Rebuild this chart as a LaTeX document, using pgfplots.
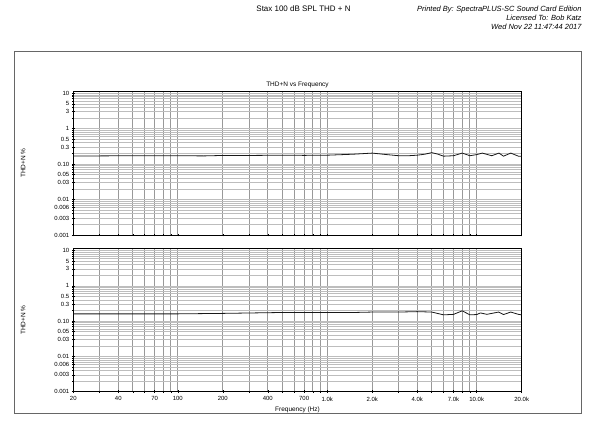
\documentclass[border=0pt]{standalone}
\usepackage{pgfplots}
\pgfplotsset{compat=1.18}
\usepackage{fontspec}
\setmainfont{Liberation Sans}
\pgfplotstableread{
f v
20 0.168
30 0.170
50 0.172
100 0.172
150 0.170
200 0.175
300 0.175
500 0.178
700 0.176
1000 0.178
1500 0.19
2000 0.204
2500 0.185
3000 0.172
3500 0.172
4000 0.178
4500 0.19
5000 0.21
5500 0.19
6000 0.167
7000 0.172
8000 0.204
9000 0.172
10000 0.185
10900 0.204
12600 0.172
14100 0.204
15100 0.167
16900 0.204
19000 0.167
20000 0.165
}\topdata
\pgfplotstableread{
f v
20 0.16
50 0.16
100 0.16
200 0.165
500 0.175
1000 0.175
1500 0.175
2000 0.18
3000 0.18
4000 0.185
5000 0.18
6000 0.15
7000 0.155
8000 0.195
9000 0.15
10000 0.153
10600 0.17
11700 0.155
14000 0.18
15100 0.153
16900 0.18
19000 0.155
20000 0.15
}\botdata
\definecolor{vgrid}{gray}{0.60}
\definecolor{hgrid}{gray}{0.74}
\pgfplotsset{every axis/.append style={
    scale only axis,
    width=448.4bp,
    xmin=20, xmax=20000,
    ymin=0.001, ymax=11.5,
    axis line style={black, line width=0.9pt},
    xtick={20,40,70,100,200,400,700,1000,2000,4000,7000,10000,20000},
    minor xtick={30,50,60,80,90,300,500,600,800,900,3000,5000,6000,8000,9000},
    ytick={0.001,0.003,0.006,0.01,0.03,0.05,0.1,0.3,0.5,1,3,5,10},
    yticklabels={0.001,0.003,0.006,0.01,0.03,0.05,0.10,0.3,0.5,1,3,5,10},
    minor ytick={0.002,0.004,0.005,0.007,0.008,0.009,0.02,0.04,0.06,0.07,0.08,0.09,0.2,0.4,0.6,0.7,0.8,0.9,2,4,6,7,8,9},
    xmajorgrids, xminorgrids, ymajorgrids, yminorgrids,
    major x grid style={vgrid, line width=1pt},
    major y grid style={hgrid, line width=0.5pt},
    minor x grid style={vgrid, line width=1pt},
    minor y grid style={hgrid, line width=0.5pt},
    tick style={black, line width=0.5pt},
    major tick length=3bp, minor tick length=2bp,
    tick align=center,
    xtick pos=bottom, ytick pos=left,
    tick label style={font=\fontsize{6}{7}\selectfont},
    yticklabel style={xshift=1bp},
    ylabel={THD+N \%},
    every axis y label/.style={at={(axis description cs:-0.112,0.5)}, rotate=90, anchor=center, font=\fontsize{6.5}{7.5}\selectfont},
}}
\begin{document}
\begin{tikzpicture}
\useasboundingbox (0bp,0bp) rectangle (600bp,422bp);
\draw[gray!80!black, line width=0.9pt] (14.7bp,8.7bp) rectangle (581.7bp,370.3bp);
\node[font=\fontsize{8}{9}\selectfont, anchor=base] at (303.5bp,410bp) {Stax 100 dB SPL THD + N};
\node[font=\fontsize{7.5}{9}\selectfont\itshape, anchor=base east] at (585bp,410bp) {Printed By: SpectraPLUS-SC Sound Card Edition};
\node[font=\fontsize{7.5}{9}\selectfont\itshape, anchor=base east] at (585bp,401bp) {Licensed To: Bob Katz};
\node[font=\fontsize{7.5}{9}\selectfont\itshape, anchor=base east] at (585bp,392bp) {Wed Nov 22 11:47:44 2017};
\begin{loglogaxis}[at={(73.3bp,187bp)}, anchor=south west, height=144bp,
  xticklabels={},
  title={THD+N vs Frequency},
  title style={font=\fontsize{6.5}{7.5}\selectfont, yshift=-6.5bp},
  /pgf/number format/assume math mode=true,
]
\addplot[black!90, line width=0.8pt] table[x=f,y=v] {\topdata};
\end{loglogaxis}
\begin{loglogaxis}[at={(73.3bp,30.3bp)}, anchor=south west, height=143.4bp,
  xticklabels={20,40,70,100,200,400,700,1.0k,2.0k,4.0k,7.0k,10.0k,20.0k},
  xlabel={Frequency (Hz)},
  xlabel style={font=\fontsize{6.5}{7.5}\selectfont, yshift=1bp},
  /pgf/number format/assume math mode=true,
]
\addplot[black!90, line width=0.8pt] table[x=f,y=v] {\botdata};
\end{loglogaxis}
\end{tikzpicture}
\end{document}
